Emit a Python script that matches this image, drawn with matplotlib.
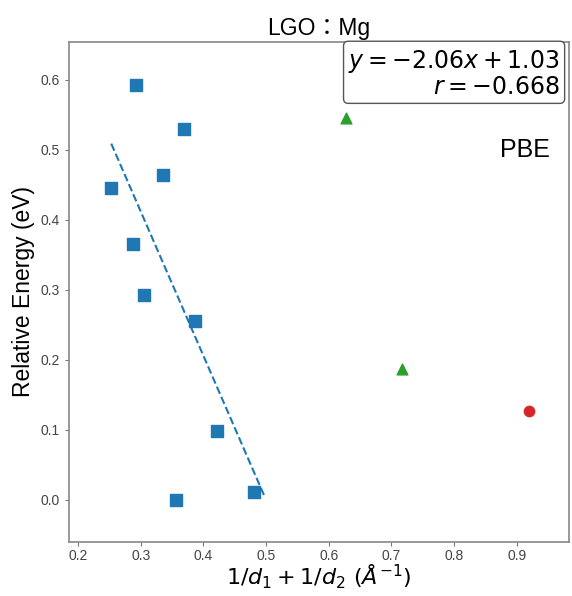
# LGO:Mg の相対エネルギー vs 1/d1 + 1/d2 (PBE)
import matplotlib.pyplot as plt

plt.rcParams['font.family'] = ['Liberation Sans', 'Noto Sans CJK JP', 'DejaVu Sans']
plt.rcParams['mathtext.fontset'] = 'dejavusans'

# 四角 (青)
x_sq = [0.2925, 0.369, 0.335, 0.253, 0.288, 0.305, 0.387, 0.422, 0.356, 0.481]
y_sq = [0.593, 0.530, 0.464, 0.446, 0.365, 0.293, 0.256, 0.098, 0.000, 0.011]
# 三角 (緑)
x_tri = [0.627, 0.717]
y_tri = [0.546, 0.187]
# 丸 (赤)
x_cir = [0.919]
y_cir = [0.127]

# 回帰直線
slope = -2.06
intercept = 1.03
r_value = -0.668
fit_x = [min(x_sq), 0.497]
fit_y = [slope * x + intercept for x in fit_x]

fig = plt.figure(figsize=(5.72, 5.96), dpi=100)
ax = fig.add_axes([0.1206, 0.0906, 0.874, 0.839])

ax.scatter(x_sq, y_sq, marker='s', s=70, color='#1f77b4', zorder=3)
ax.scatter(x_tri, y_tri, marker='^', s=60, color='#2ca02c', zorder=3)
ax.scatter(x_cir, y_cir, marker='o', s=55, color='#d62728', zorder=3)
ax.plot(fit_x, fit_y, '--', color='#1f77b4', lw=1.5)

ax.set_xlim(0.1856, 0.983)
ax.set_ylim(-0.06, 0.654)
ax.set_xticks([0.2, 0.3, 0.4, 0.5, 0.6, 0.7, 0.8, 0.9])
ax.set_yticks([0.0, 0.1, 0.2, 0.3, 0.4, 0.5, 0.6])
ax.tick_params(labelsize=10, labelcolor='#444444', color='#777777', length=3)
ax.tick_params(axis='x', pad=2)
for sp in ax.spines.values():
    sp.set_color('#888888')
    sp.set_linewidth(1.2)

ax.set_title('LGO：Mg', fontsize=16.5, pad=5)
ax.set_xlabel(r'$1/d_1 + 1/d_2\ (\AA^{-1})$', fontsize=16, labelpad=0)
ax.set_ylabel('Relative Energy (eV)', fontsize=16.5, labelpad=4)

txt = '$y = %.2fx + %.2f$\n$r = %.3f$' % (slope, intercept, r_value)
ax.text(0.982, 0.988, txt, transform=ax.transAxes, ha='right', va='top',
        fontsize=17, multialignment='right', linespacing=1.1,
        bbox=dict(boxstyle='round,pad=0.2', fc='white', ec='#555555'))
ax.text(0.962, 0.784, 'PBE', transform=ax.transAxes, ha='right', va='center',
        fontsize=18)

plt.savefig('out.png', dpi=100)
